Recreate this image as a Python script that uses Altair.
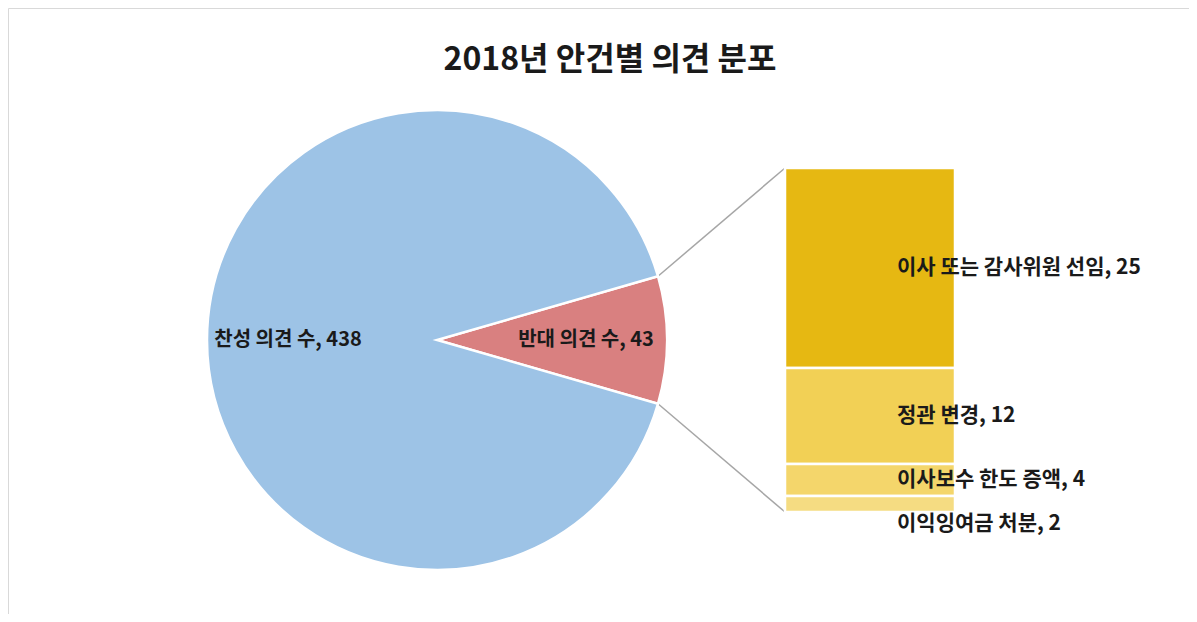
import math
import altair as alt
import pandas as pd

# ---- data ----
pie_labels = ["반대 의견 수", "찬성 의견 수"]
pie_values = [43, 438]
pie_colors = ["#D98080", "#9DC3E6"]

bar_labels = ["이사 또는 감사위원 선임", "정관 변경", "이사보수 한도 증액", "이익잉여금 처분"]
bar_values = [25, 12, 4, 2]
bar_colors = ["#E6B812", "#F2D055", "#F4D66B", "#F5DC82"]

title_text = "2018년 안건별 의견 분포"

# ---- layout constants (plot-area pixels) ----
W, H = 1181, 606
CX, CY, R = 429, 332, 230
BAR_X0, BAR_X1 = 777, 947
BAR_TOP, BAR_BOT = 160, 504
LABEL_X = 889
FONT = "Noto Sans CJK KR"
LABEL_SIZE = 20
BAR_LABEL_SIZE = 21

total = sum(pie_values)
frac = pie_values[0] / total
start = math.pi / 2 - frac * math.pi
theta_scale = alt.Scale(domain=[0, total], range=[start, start + 2 * math.pi])

pie_df = pd.DataFrame({
    "label": pie_labels,
    "value": pie_values,
    "order": [0, 1],
    "text": [f"{l}, {v}" for l, v in zip(pie_labels, pie_values)],
})

color_scale = alt.Scale(domain=pie_labels, range=pie_colors)

pie = alt.Chart(pie_df).mark_arc(radius=R, stroke="white", strokeWidth=2.5).encode(
    theta=alt.Theta("value:Q", stack=True, scale=theta_scale),
    order=alt.Order("order:Q"),
    color=alt.Color("label:N", scale=color_scale, legend=None),
    x=alt.value(CX),
    y=alt.value(CY),
)

pie_text = alt.Chart(pie_df).mark_text(
    radius=149, font=FONT, fontWeight="bold", fontSize=LABEL_SIZE, color="#1a1a1a"
).encode(
    theta=alt.Theta("value:Q", stack=True, scale=theta_scale),
    order=alt.Order("order:Q"),
    text="text:N",
    x=alt.value(CX),
    y=alt.value(CY),
)

# stacked bar table (top segment first)
cum = []
acc = 0
for v in reversed(bar_values):
    cum.append(acc)
    acc += v
cum = list(reversed(cum))
bar_df = pd.DataFrame({
    "label": bar_labels,
    "value": bar_values,
    "y0": cum,
    "y1": [c + v for c, v in zip(cum, bar_values)],
    "text": [f"{l}, {v}" for l, v in zip(bar_labels, bar_values)],
})
bar_df["mid"] = (bar_df["y0"] + bar_df["y1"]) / 2
sub_total = sum(bar_values)
y_scale = alt.Scale(domain=[0, sub_total], range=[BAR_BOT, BAR_TOP])
bar_color_scale = alt.Scale(domain=bar_labels, range=bar_colors)

bars = alt.Chart(bar_df).mark_rect(stroke="white", strokeWidth=2.5).encode(
    x=alt.value(BAR_X0),
    x2=alt.value(BAR_X1),
    y=alt.Y("y0:Q", scale=y_scale, axis=None),
    y2="y1:Q",
    color=alt.Color("label:N", scale=bar_color_scale, legend=None),
)

big = bar_df[bar_df["value"] >= 4]
small = bar_df[bar_df["value"] < 4]

bar_text = alt.Chart(big).mark_text(
    align="left", baseline="middle", font=FONT, fontWeight="bold", fontSize=BAR_LABEL_SIZE, color="#1a1a1a"
).encode(
    x=alt.value(LABEL_X),
    y=alt.Y("mid:Q", scale=y_scale, axis=None),
    text="text:N",
)

bar_text_small = alt.Chart(small).mark_text(
    align="left", baseline="middle", font=FONT, fontWeight="bold", fontSize=BAR_LABEL_SIZE, color="#1a1a1a", dy=20
).encode(
    x=alt.value(LABEL_X),
    y=alt.Y("mid:Q", scale=y_scale, axis=None),
    text="text:N",
)

# connector lines from the slice edges to the bar corners
a_top = start
a_bot = start + frac * 2 * math.pi
conn_df = pd.DataFrame({
    "x": [CX + R * math.sin(a_top), CX + R * math.sin(a_bot)],
    "y": [CY - R * math.cos(a_top), CY - R * math.cos(a_bot)],
    "x2": [BAR_X0, BAR_X0],
    "y2": [BAR_TOP, BAR_BOT],
})
px = alt.Scale(domain=[0, W], range=[0, W])
py = alt.Scale(domain=[0, H], range=[0, H])
conn = alt.Chart(conn_df).mark_rule(color="#A6A6A6", strokeWidth=1.5).encode(
    x=alt.X("x:Q", scale=px, axis=None),
    y=alt.Y("y:Q", scale=py, axis=None),
    x2="x2:Q",
    y2="y2:Q",
)

title = alt.Chart(pd.DataFrame({"t": [title_text]})).mark_text(
    font=FONT, fontWeight="bold", fontSize=32, color="#1a1a1a", align="center", baseline="middle"
).encode(
    text="t:N",
    x=alt.value(602),
    y=alt.value(52),
)

chart = alt.layer(conn, pie, pie_text, bars, bar_text, bar_text_small, title).resolve_scale(
    y="independent", x="independent", color="independent", theta="independent"
).properties(
    width=W, height=H, padding=0, autosize=alt.AutoSizeParams(type="none"), background="white"
).configure_view(stroke="#D9D9D9", strokeWidth=1)

chart.save("out.html", embed_options={"renderer": "svg", "actions": False})
